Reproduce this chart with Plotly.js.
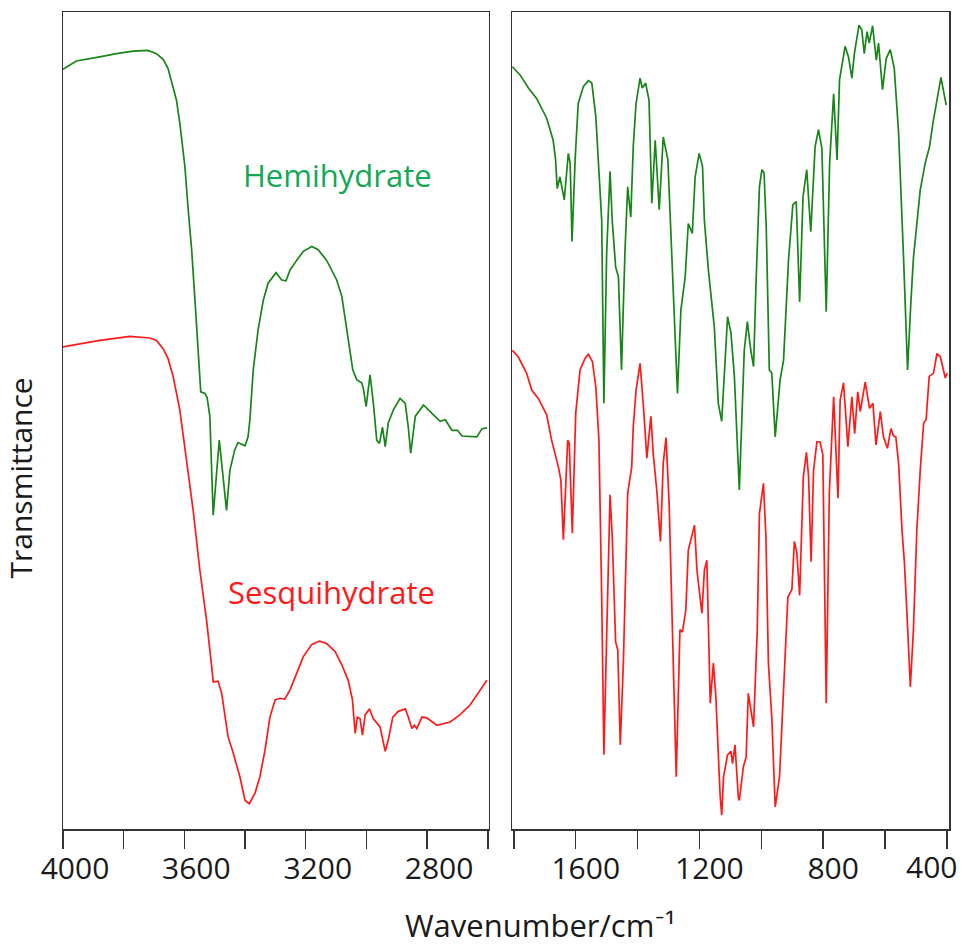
<!DOCTYPE html>
<html>
<head>
<meta charset="utf-8">
<script src="https://cdn.plot.ly/plotly-3.0.1.min.js"></script>
<style>html,body{margin:0;padding:0;background:#fff;}#chart{width:963px;height:945px;}</style>
</head>
<body>
<div id="chart"></div>
<script>
// ---- High-wavenumber region (4000-2600 cm-1) ----
const hemiLeftWn = [4000,3956,3879,3824,3769,3720,3692,3670,3654,3637,3626,3615,3598,3588,3576,3565,3555,3546,3532,3525,3516,3505,3485,3461,3450,3434,3423,3400,3390,3384,3373,3357,3340,3324,3298,3279,3265,3252,3230,3208,3180,3159,3131,3098,3081,3065,3045,3032,3015,3010,3001,2988,2977,2966,2957,2947,2938,2928,2911,2889,2872,2862,2854,2839,2812,2779,2757,2740,2718,2700,2685,2636,2619,2603];
const hemiLeftT = [93.0,94.0,94.5,94.9,95.2,95.3,94.9,94.2,93.1,90.9,89.2,86.4,81.0,76.1,70.9,64.7,58.6,53.5,53.3,52.8,50.5,38.4,47.6,39.0,43.9,46.4,47.3,46.9,48.0,50.1,56.2,61.1,64.7,66.8,68.1,67.2,67.1,68.4,69.6,70.7,71.3,70.9,69.6,67.2,65.2,61.1,56.2,55.0,54.6,53.9,51.7,55.6,52.1,47.6,47.2,49.2,46.8,49.7,51.3,52.7,52.1,49.2,46.0,50.5,51.9,50.7,49.9,50.1,48.8,48.8,48.1,48.0,49.0,49.1];

const sesqLeftWn = [4000,3879,3780,3714,3692,3670,3654,3637,3615,3593,3571,3549,3527,3510,3505,3489,3477,3456,3439,3417,3400,3386,3367,3351,3334,3318,3301,3285,3269,3252,3230,3208,3180,3155,3131,3103,3081,3060,3046,3037,3030,3021,3013,3004,2990,2977,2955,2938,2928,2913,2895,2872,2862,2850,2842,2834,2817,2801,2768,2746,2724,2691,2658,2625,2603];
const sesqLeftT = [59.0,59.8,60.3,60.1,59.8,58.8,57.6,55.4,51.3,45.2,39.0,31.7,25.6,19.9,18.0,18.1,16.6,11.3,9.3,6.4,3.5,3.1,4.4,6.4,9.7,13.7,15.8,16.0,15.9,17.0,19.1,21.1,22.6,23.0,22.7,21.7,20.1,18.2,15.8,11.7,13.7,13.5,11.5,14.0,14.7,13.5,12.5,9.5,10.9,13.7,14.4,14.7,13.7,12.3,12.7,12.3,13.7,13.6,12.7,12.9,13.1,14.0,15.2,17.0,18.2];

// ---- Fingerprint region (1800-400 cm-1) ----
const hemiRightWn = [1805,1780,1753,1726,1694,1673,1665,1660,1651,1637,1624,1618,1612,1602,1592,1575,1559,1548,1535,1527,1516,1509,1500,1489,1482,1471,1462,1452,1441,1432,1422,1414,1405,1392,1385,1374,1363,1354,1343,1330,1317,1302,1289,1282,1271,1260,1246,1236,1223,1214,1201,1190,1184,1171,1158,1152,1139,1128,1109,1098,1087,1071,1055,1045,1034,1025,1017,1006,998,991,984,974,966,955,939,928,912,898,887,876,865,853,840,826,815,804,790,779,766,755,747,736,729,718,707,699,684,675,667,658,651,640,628,621,608,596,583,570,556,540,527,516,508,486,470,456,445,419,402];
const hemiRightT = [93.3,92.3,90.7,89.4,87.0,84.3,81.9,78.4,79.8,77.0,82.7,81.5,71.9,81.9,88.8,90.9,91.6,91.3,87.2,81.5,74.5,52.1,70.5,80.5,74.5,68.8,67.6,56.2,70.5,78.6,74.9,83.5,88.8,91.9,90.7,91.3,89.2,76.6,84.3,75.8,84.7,81.9,70.5,62.3,53.3,63.5,67.6,74.1,72.9,79.8,82.7,81.1,74.5,68.4,63.1,61.5,52.1,49.9,62.7,60.7,55.4,41.5,58.6,62.1,58.6,56.6,66.8,78.6,80.7,80.3,73.7,56.2,55.8,48.0,55.0,57.4,69.6,76.4,76.8,64.5,77.4,80.7,73.1,83.5,85.6,83.3,63.3,81.5,90.0,81.9,91.7,94.5,95.8,94.5,91.9,94.9,98.4,97.8,94.9,97.6,96.2,98.3,94.1,96.2,90.5,94.3,95.4,93.1,85.2,70.0,56.2,64.7,69.9,78.2,81.5,83.5,86.4,92.0,88.6];

const sesqRightWn = [1805,1786,1759,1742,1721,1694,1678,1656,1648,1640,1626,1621,1611,1600,1586,1570,1559,1546,1535,1525,1516,1509,1500,1489,1482,1471,1464,1456,1446,1438,1432,1419,1414,1405,1392,1381,1370,1357,1349,1338,1326,1317,1308,1298,1289,1275,1263,1255,1244,1236,1216,1208,1192,1184,1176,1165,1155,1147,1133,1128,1122,1109,1098,1093,1085,1074,1071,1058,1049,1042,1025,1013,1006,993,985,977,966,955,941,928,914,901,893,885,876,864,854,847,839,831,820,810,801,790,780,766,752,745,734,720,707,698,688,680,664,650,639,629,615,605,592,581,572,565,556,545,537,529,518,508,497,486,475,467,457,443,432,421,405,399];
const sesqRightT = [58.6,57.8,55.8,53.7,52.7,50.7,47.6,44.3,42.7,35.4,47.6,47.2,36.2,50.9,56.2,57.6,58.1,57.2,54.1,47.6,28.4,9.1,23.5,40.9,35.8,22.9,21.9,10.3,20.3,33.7,41.1,44.3,49.2,53.7,57.0,51.7,45.4,50.5,45.8,41.5,35.2,44.8,47.9,39.9,25.6,6.4,24.4,24.1,26.8,34.1,37.2,31.7,26.4,31.7,32.9,15.4,20.3,16.2,4.0,1.7,6.4,9.1,9.5,8.0,10.3,3.8,3.5,7.6,8.8,16.6,12.5,24.4,38.6,42.3,35.8,20.3,13.7,2.7,6.4,16.6,28.4,29.3,35.2,33.8,28.6,43.1,46.1,43.1,32.7,43.9,47.4,47.4,45.8,15.4,41.1,52.9,40.5,52.5,54.6,46.8,52.9,48.4,53.5,51.1,54.7,51.5,52.1,47.0,51.1,48.0,46.6,49.0,48.1,48.0,44.8,36.6,32.5,26.4,17.4,24.4,36.6,43.9,49.7,50.1,55.4,55.8,58.2,57.8,55.2,55.8];

const leftTickVals = [4000,3800,3600,3400,3200,3000,2800,2600];
const leftTickText = ['4000','','3600','','3200','','2800',''];
const rightTickVals = [1800,1600,1400,1200,1000,800,600,400];
const rightTickText = ['','1600','','1200','','800','',''];
const edgeLabel = {value: 400, text: '400'};

const GREEN = '#178517';
const RED = '#ff1a1a';
const FONT = 'Open Sans, Lato, sans-serif';

const traces = [
  {x: hemiLeftWn, y: hemiLeftT, xaxis: 'x', yaxis: 'y', mode: 'lines', line: {color: GREEN, width: 1.7}, hoverinfo: 'skip'},
  {x: sesqLeftWn, y: sesqLeftT, xaxis: 'x', yaxis: 'y', mode: 'lines', line: {color: RED, width: 1.7}, hoverinfo: 'skip'},
  {x: hemiRightWn, y: hemiRightT, xaxis: 'x2', yaxis: 'y2', mode: 'lines', line: {color: GREEN, width: 1.7}, hoverinfo: 'skip'},
  {x: sesqRightWn, y: sesqRightT, xaxis: 'x2', yaxis: 'y2', mode: 'lines', line: {color: RED, width: 1.7}, hoverinfo: 'skip'}
];

const axisCommon = {
  showline: true, mirror: true, linecolor: '#333', linewidth: 1.5,
  showgrid: false, zeroline: false,
  ticks: 'outside', ticklen: 18, tickwidth: 1.5, tickcolor: '#333',
  tickfont: {family: FONT, size: 30, color: '#1a1a1a'},
  tickmode: 'array', automargin: false, ticklabelstandoff: -6
};

const layout = {
  width: 963, height: 945,
  margin: {l: 63, r: 14, t: 12, b: 116},
  paper_bgcolor: '#fff', plot_bgcolor: '#fff',
  showlegend: false,
  xaxis: Object.assign({}, axisCommon, {domain: [0, 0.4808], range: [4000, 2596], tickvals: leftTickVals, ticktext: leftTickText, anchor: 'y', ticklabelshift: -12}),
  xaxis2: Object.assign({}, axisCommon, {domain: [0.5068, 1], range: [1806, 393], tickvals: rightTickVals, ticktext: rightTickText, anchor: 'y2', ticklabelshift: -10}),
  yaxis: {domain: [0, 1], range: [0, 100], showline: true, mirror: true, linecolor: '#333', linewidth: 1.5, showgrid: false, zeroline: false, showticklabels: false, ticks: '', anchor: 'x'},
  yaxis2: {domain: [0, 1], range: [0, 100], showline: true, mirror: true, linecolor: '#333', linewidth: 1.5, showgrid: false, zeroline: false, showticklabels: false, ticks: '', anchor: 'x2'},
  annotations: [
    {text: 'Hemihydrate', xref: 'paper', yref: 'paper', x: 0.3093, y: 0.8005, xanchor: 'center', yanchor: 'middle', showarrow: false, font: {family: FONT, size: 31, color: '#12a854'}},
    {text: 'Sesquihydrate', xref: 'paper', yref: 'paper', x: 0.3025, y: 0.290, xanchor: 'center', yanchor: 'middle', showarrow: false, font: {family: FONT, size: 31, color: '#ff1a1a'}},
    {text: 'Wavenumber/cm\u207B\u00B9', xref: 'paper', yref: 'paper', x: 0.5384, y: -0.1175, xanchor: 'center', yanchor: 'middle', showarrow: false, font: {family: FONT, size: 31, color: '#1a1a1a'}},
    {text: 'Transmittance', xref: 'paper', yref: 'paper', x: -0.048, y: 0.4296, xanchor: 'center', yanchor: 'middle', textangle: -90, showarrow: false, font: {family: FONT, size: 30, color: '#1a1a1a'}},
    {text: edgeLabel.text, xref: 'x2', yref: 'paper', x: edgeLabel.value, xshift: -15, y: -0.046, xanchor: 'center', yanchor: 'middle', showarrow: false, font: {family: FONT, size: 30, color: '#1a1a1a'}}
  ]
};

Plotly.newPlot('chart', traces, layout, {staticPlot: true, displayModeBar: false});
</script>
</body>
</html>
